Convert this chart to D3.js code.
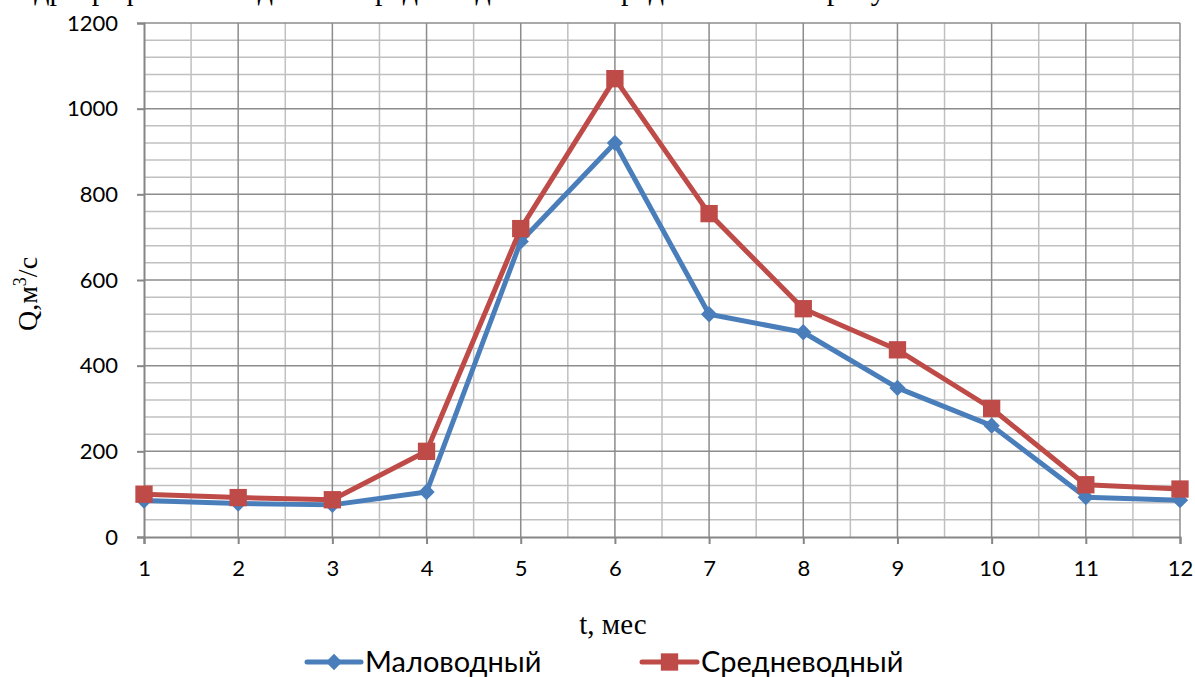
<!DOCTYPE html>
<html>
<head>
<meta charset="utf-8">
<script src="https://cdn.jsdelivr.net/npm/d3@7"></script>
<style>
  html, body { margin: 0; padding: 0; background: #fff; }
  svg { display: block; }
</style>
</head>
<body>
<svg id="chart" width="1195" height="677"></svg>
<script>
// Monthly discharge hydrographs for a low-water and an average-water year
const months = [1, 2, 3, 4, 5, 6, 7, 8, 9, 10, 11, 12];
const lowWater = [85, 78, 75, 105, 690, 920, 520, 478, 348, 260, 93, 86];
const avgWater = [100, 92, 87, 200, 720, 1070, 755, 533, 437, 300, 122, 112];
const seriesNames = ["Маловодный", "Средневодный"];
const yTicks = [0, 200, 400, 600, 800, 1000, 1200];

const svg = d3.select("#chart");
const W = 1195, H = 677;
const m = { left: 144, right: 15, top: 23, bottom: 140 };

const x = d3.scaleLinear().domain([1, 12]).range([m.left, W - m.right]);
const y = d3.scaleLinear().domain([0, 1200]).range([H - m.bottom, m.top]);

// Line of body text running above the chart (clipped at the top edge)
svg.append("text")
  .attr("x", 2).attr("y", -0.5)
  .attr("font-family", "'Liberation Serif', 'Times New Roman', serif")
  .attr("font-size", 30)
  .attr("fill", "#000")
  .text("Гидрографы маловодного и средневодного лет представлены на рисунке");

// Minor grid
const minorY = d3.range(40, 1200, 40).filter(v => v % 200 !== 0);
const minorX = d3.range(1.5, 12, 1);
const grid = svg.append("g");
grid.selectAll(".hy").data(minorY).join("line")
  .attr("x1", x(1)).attr("x2", x(12))
  .attr("y1", d => y(d)).attr("y2", d => y(d))
  .attr("stroke", "#c0c0c0").attr("stroke-width", 1.5);
grid.selectAll(".vx").data(minorX).join("line")
  .attr("x1", d => x(d)).attr("x2", d => x(d))
  .attr("y1", y(0)).attr("y2", y(1200))
  .attr("stroke", "#c0c0c0").attr("stroke-width", 1.5);

// Major grid
grid.selectAll(".My").data(yTicks.filter(v => v > 0)).join("line")
  .attr("x1", x(1)).attr("x2", x(12))
  .attr("y1", d => y(d)).attr("y2", d => y(d))
  .attr("stroke", "#8c8c8c").attr("stroke-width", 1.5);
grid.selectAll(".Mx").data(months.slice(1)).join("line")
  .attr("x1", d => x(d)).attr("x2", d => x(d))
  .attr("y1", y(0)).attr("y2", y(1200))
  .attr("stroke", "#8c8c8c").attr("stroke-width", 1.5);

// Axes
const axisFont = "Lato, 'Open Sans', sans-serif";
const yAxis = svg.append("g")
  .attr("transform", `translate(${x(1)},0)`)
  .call(d3.axisLeft(y).tickValues(yTicks).tickFormat(d3.format("d"))
    .tickSize(7).tickPadding(19));
const xAxis = svg.append("g")
  .attr("transform", `translate(0,${y(0)})`)
  .call(d3.axisBottom(x).tickValues(months).tickFormat(d3.format("d"))
    .tickSize(7).tickPadding(16));
[yAxis, xAxis].forEach(a => {
  a.select(".domain").attr("stroke", "#868686").attr("stroke-width", 2);
  a.selectAll(".tick line").attr("stroke", "#868686").attr("stroke-width", 2);
  a.selectAll(".tick text")
    .attr("font-family", axisFont).attr("font-size", 22).attr("fill", "#000");
});
xAxis.selectAll(".tick text").attr("dy", "0.71em");

// Axis titles
const serif = "'Liberation Serif', 'Times New Roman', serif";
const yTitle = svg.append("text")
  .attr("transform", `translate(37,${y(600) + 14}) rotate(-90)`)
  .attr("text-anchor", "middle")
  .attr("font-family", serif).attr("font-size", 28).attr("fill", "#000");
yTitle.append("tspan").text("Q,м");
yTitle.append("tspan").attr("font-size", 18).attr("dy", -11).text("3");
yTitle.append("tspan").attr("dy", 11).text("/с");

svg.append("text")
  .attr("x", 613).attr("y", 634)
  .attr("text-anchor", "middle")
  .attr("font-family", serif).attr("font-size", 29).attr("fill", "#000")
  .text("t, мес");

// Series
const colors = ["#4a7ebb", "#be4b48"];
const series = [lowWater, avgWater];
const line = d3.line().x((d, i) => x(months[i])).y(d => y(d));
const diamond = d3.symbol().type(d3.symbolDiamond2).size(170);
const square = d3.symbol().type(d3.symbolSquare).size(300);
const symbols = [diamond, square];

series.forEach((vals, s) => {
  svg.append("path").datum(vals)
    .attr("d", line)
    .attr("fill", "none")
    .attr("stroke", colors[s]).attr("stroke-width", 5)
    .attr("stroke-linejoin", "round");
  svg.append("g").selectAll("path").data(vals).join("path")
    .attr("transform", (d, i) => `translate(${x(months[i])},${y(d)})`)
    .attr("d", symbols[s])
    .attr("fill", colors[s]);
});

// Legend
const legendY = 662;
const legendItems = [
  { x0: 307, x1: 361, tx: 365 },
  { x0: 642, x1: 697, tx: 701 }
];
legendItems.forEach((it, s) => {
  const g = svg.append("g");
  g.append("line")
    .attr("x1", it.x0).attr("x2", it.x1)
    .attr("y1", legendY).attr("y2", legendY)
    .attr("stroke", colors[s]).attr("stroke-width", 5)
    .attr("stroke-linecap", "round");
  g.append("path")
    .attr("transform", `translate(${(it.x0 + it.x1) / 2},${legendY})`)
    .attr("d", symbols[s])
    .attr("fill", colors[s]);
  g.append("text")
    .attr("x", it.tx).attr("y", legendY)
    .attr("dy", "0.36em")
    .attr("font-family", axisFont).attr("font-size", 29).attr("fill", "#000")
    .text(seriesNames[s]);
});
</script>
</body>
</html>
